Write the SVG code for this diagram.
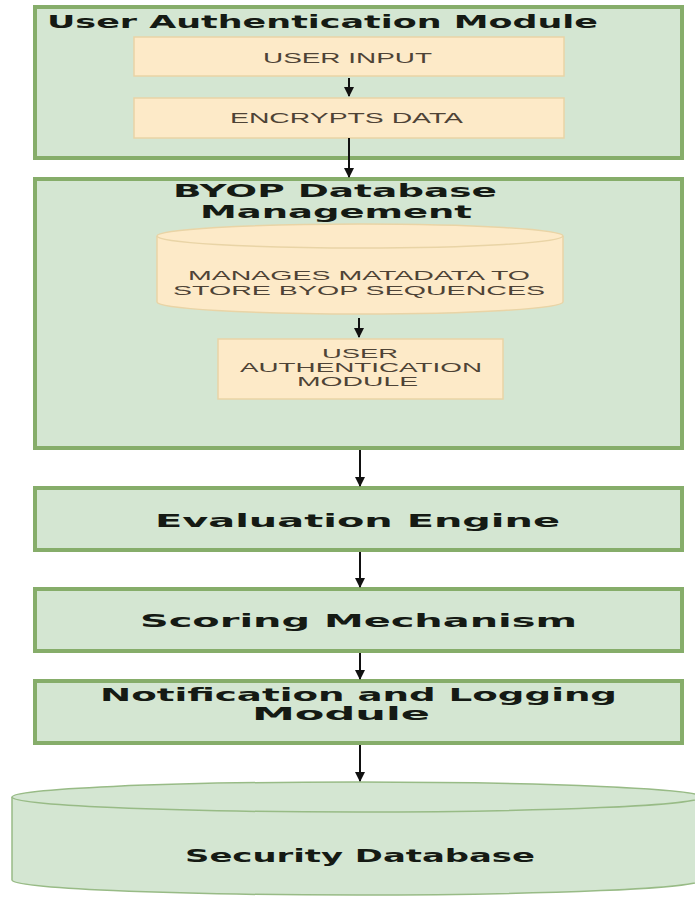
<svg xmlns="http://www.w3.org/2000/svg" width="695" height="901" viewBox="0 0 695 901">
<defs>
<style>
.outer{fill:#d4e6d2;stroke:#86ad6a;stroke-width:4}
.box{fill:#d4e6d2;stroke:#86ad6a;stroke-width:4}
.sub{fill:#fdeac8;stroke:#e9d4a6;stroke-width:1.5}
.db{fill:#d4e6d2;stroke:#98bb86;stroke-width:1.5}
.t{font-family:"DejaVu Sans",Verdana,sans-serif;font-weight:bold;fill:#151a14}
.s{font-family:"Liberation Sans",Arial,sans-serif;fill:#4e4336}
.c{stroke:#111;stroke-width:2;fill:none}
</style>
<marker id="ah" viewBox="0 0 10 10" refX="9" refY="5" markerWidth="5" markerHeight="5" orient="auto" markerUnits="strokeWidth">
<path d="M0,0 L10,5 L0,10 z" fill="#111"/>
</marker>
</defs>
<rect width="695" height="901" fill="#ffffff"/>

<g id="auth-module">
<rect class="outer" x="35" y="7" width="647" height="151"/>
<text class="t" x="47" y="28" font-size="17" textLength="551" lengthAdjust="spacingAndGlyphs">User Authentication Module</text>
</g>
<g id="user-input">
<rect class="sub" x="134" y="37" width="430" height="39"/>
<text class="s" x="263" y="63" font-size="14" textLength="169" lengthAdjust="spacingAndGlyphs">USER INPUT</text>
</g>
<g id="encrypts-data">
<rect class="sub" x="134" y="98" width="430" height="40"/>
<text class="s" x="230" y="123" font-size="14" textLength="233" lengthAdjust="spacingAndGlyphs">ENCRYPTS DATA</text>
</g>

<g id="byop-db">
<rect class="outer" x="35" y="179" width="647" height="269"/>
<text class="t" x="173" y="197" font-size="18" textLength="324" lengthAdjust="spacingAndGlyphs">BYOP Database</text>
<text class="t" x="200" y="218" font-size="18" textLength="272" lengthAdjust="spacingAndGlyphs">Management</text>
</g>
<g id="metadata-store">
<path class="sub" d="M157,236 A203,12 0 0 1 563,236 L563,302 A203,12 0 0 1 157,302 Z"/>
<path class="sub" d="M157,236 A203,12 0 0 0 563,236" fill="none"/>
<text class="s" x="188" y="280" font-size="13" textLength="342" lengthAdjust="spacingAndGlyphs">MANAGES MATADATA TO</text>
<text class="s" x="173" y="295" font-size="13" textLength="372" lengthAdjust="spacingAndGlyphs">STORE BYOP SEQUENCES</text>
</g>
<g id="user-auth-module">
<rect class="sub" x="218" y="339" width="285" height="60"/>
<text class="s" x="322" y="358" font-size="12" textLength="76" lengthAdjust="spacingAndGlyphs">USER</text>
<text class="s" x="240" y="372" font-size="12" textLength="242" lengthAdjust="spacingAndGlyphs">AUTHENTICATION</text>
<text class="s" x="297" y="386" font-size="12" textLength="121" lengthAdjust="spacingAndGlyphs">MODULE</text>
</g>

<g id="evaluation-engine">
<rect class="box" x="35" y="488" width="647" height="62"/>
<text class="t" x="155" y="527" font-size="18" textLength="405" lengthAdjust="spacingAndGlyphs">Evaluation Engine</text>
</g>
<g id="scoring-mechanism">
<rect class="box" x="35" y="589" width="647" height="62"/>
<text class="t" x="140" y="627" font-size="18" textLength="437" lengthAdjust="spacingAndGlyphs">Scoring Mechanism</text>
</g>
<g id="notification-logging">
<rect class="box" x="35" y="681" width="647" height="62"/>
<text class="t" x="100" y="701" font-size="17" textLength="517" lengthAdjust="spacingAndGlyphs">Notification and Logging</text>
<text class="t" x="252" y="720" font-size="17" textLength="178" lengthAdjust="spacingAndGlyphs">Module</text>
</g>
<g id="security-database">
<path class="db" d="M12,797 A345,15 0 0 1 702,797 L702,880 A345,15 0 0 1 12,880 Z"/>
<path class="db" d="M12,797 A345,15 0 0 0 702,797" fill="none"/>
<text class="t" x="185" y="862" font-size="18" textLength="350" lengthAdjust="spacingAndGlyphs">Security Database</text>
</g>

<g id="connectors">
<line class="c" x1="349" y1="78" x2="349" y2="96" marker-end="url(#ah)"/>
<line class="c" x1="349" y1="138" x2="349" y2="177" marker-end="url(#ah)"/>
<line class="c" x1="359" y1="318" x2="359" y2="337" marker-end="url(#ah)"/>
<line class="c" x1="360" y1="450" x2="360" y2="486" marker-end="url(#ah)"/>
<line class="c" x1="360" y1="552" x2="360" y2="587" marker-end="url(#ah)"/>
<line class="c" x1="360" y1="653" x2="360" y2="679" marker-end="url(#ah)"/>
<line class="c" x1="360" y1="745" x2="360" y2="781" marker-end="url(#ah)"/>
</g>
</svg>
